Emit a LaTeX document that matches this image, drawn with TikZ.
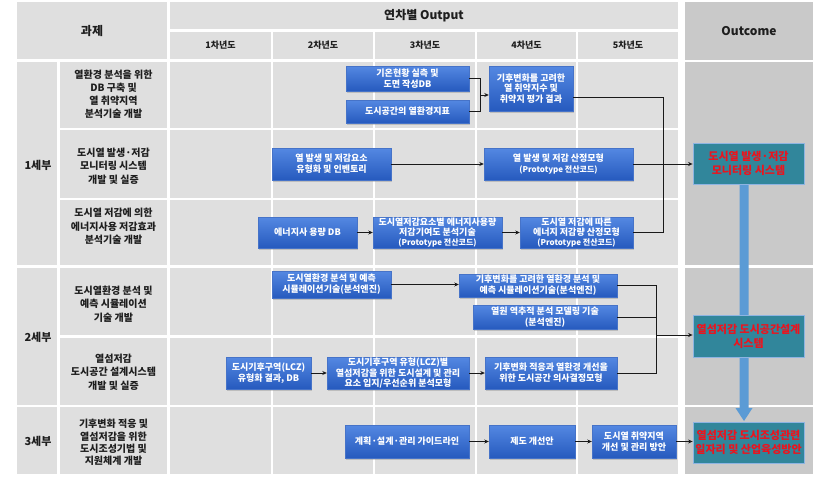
\documentclass[tikz,border=0pt]{standalone}
\usepackage{fontspec}
\setmainfont{Noto Sans CJK KR}
\usetikzlibrary{arrows.meta,shadows,calc}
\definecolor{cellgray}{RGB}{223,223,223}
\definecolor{outgray}{RGB}{201,201,201}
\definecolor{boxtop}{RGB}{84,136,226}
\definecolor{boxbot}{RGB}{38,90,190}
\definecolor{boxedge}{RGB}{70,115,200}
\definecolor{outteal}{RGB}{49,134,155}
\definecolor{tealedge}{RGB}{141,180,226}
\definecolor{barblue}{RGB}{91,155,213}
\definecolor{txtdark}{RGB}{30,30,30}
\definecolor{outred}{RGB}{235,20,30}
\tikzset{
  cell/.style={fill=cellgray},
  ocell/.style={fill=outgray},
  celltext/.style={text=txtdark, font=\fontsize{10}{13.5}\selectfont\bfseries, align=center, inner sep=0pt},
  headtext/.style={text=txtdark, font=\fontsize{12}{14}\selectfont\bfseries, align=center, inner sep=0pt},
  yeartext/.style={text=txtdark, font=\fontsize{9}{10}\selectfont\bfseries, inner sep=0pt},
  parttext/.style={text=txtdark, font=\fontsize{11}{12}\selectfont\bfseries, inner sep=0pt},
  bbox/.style={rectangle, top color=boxtop, bottom color=boxbot, draw=boxedge, line width=0.4pt,
    text=white, font=\fontsize{9}{11}\selectfont\bfseries, align=center, inner sep=0pt,
    drop shadow={shadow xshift=1pt, shadow yshift=-1.5pt, opacity=0.35}},
  tight/.style={font=\fontsize{9}{10.2}\selectfont\bfseries},
  obox/.style={rectangle, fill=outteal, draw=tealedge, line width=0.8pt, text=outred,
    font=\fontsize{11}{14}\selectfont\bfseries, align=center, inner sep=0pt,
    minimum width=111, minimum height=41},
  conn/.style={draw=black!90, line width=1pt},
  arr/.style={conn, -{Stealth[length=4.5pt,width=4pt]}},
}
\newcommand{\prt}{\fontsize{8}{9}\selectfont}
\begin{document}
\begin{tikzpicture}[x=1pt,y=-1pt]
\useasboundingbox (0,0) rectangle (820,477);
\fill[white] (0,0) rectangle (820,477);
% header cells
\fill[cell] (17,2) rectangle (167,59);
\fill[cell] (170,2) rectangle (678,29);
\foreach \a/\b in {170/271,273/373,375/475,477/576,578/678}{
  \fill[cell] (\a,32) rectangle (\b,59);
}
\fill[ocell] (685,2) rectangle (813,60);
% part cells
\fill[cell] (17,62) rectangle (57,265);
\fill[cell] (17,268) rectangle (57,405);
\fill[cell] (17,407) rectangle (57,474);
% row cells
\foreach \t/\u in {62/128,130/198,200/265,268/335,338/405,407/474}{
  \fill[cell] (60,\t) rectangle (167,\u);
  \foreach \a/\b in {170/271,273/373,375/475,477/576,578/678}{
    \fill[cell] (\a,\t) rectangle (\b,\u);
  }
}
% outcome cells
\fill[ocell] (685,62) rectangle (813,265);
\fill[ocell] (685,268) rectangle (813,405);
\fill[ocell] (685,407) rectangle (813,474);

% header texts
\node[headtext] (hk) at (92,30.5) {과제};
\node[headtext] (ho) at (424,16) {연차별 Output};
\node[headtext] (hc) at (749,31) {Outcome};
\node[yeartext] (y1) at (220.5,45.5) {1차년도};
\node[yeartext] (y2) at (323,45.5) {2차년도};
\node[yeartext] (y3) at (425,45.5) {3차년도};
\node[yeartext] (y4) at (526.5,45.5) {4차년도};
\node[yeartext] (y5) at (628,45.5) {5차년도};
% parts
\node[parttext] (p1) at (38,165) {1세부};
\node[parttext] (p2) at (38,337) {2세부};
\node[parttext] (p3) at (38,441) {3세부};
% tasks
\node[celltext, font=\fontsize{10}{13}\selectfont\bfseries] (t1) at (113.5,94) {열환경 분석을 위한\\DB 구축 및\\열 취약지역\\분석기술 개발};
\node[celltext] (t2) at (113.5,166) {도시열 발생·저감\\모니터링 시스템\\개발 및 실증};
\node[celltext] (t3) at (113.5,226.5) {도시열 저감에 의한\\에너지사용 저감효과\\분석기술 개발};
\node[celltext] (t4) at (113.5,304) {도시열환경 분석 및\\예측 시뮬레이션\\기술 개발};
\node[celltext] (t5) at (113.5,372) {열섬저감\\도시공간 설계시스템\\개발 및 실증};
\node[celltext, font=\fontsize{10}{12.3}\selectfont\bfseries] (t6) at (113.5,442.5) {기후변화 적응 및\\열섬저감을 위한\\도시조성기법 및\\지원체계 개발};

% blue bar arrow (behind outcomes)
\fill[barblue] (739.5,184) -- (748.5,184) -- (748.5,408) -- (752.5,408) -- (744,421) -- (735.5,408) -- (739.5,408) -- cycle;

% boxes
\node[bbox, minimum width=123, minimum height=25] (b1) at (407.5,78.5) {기온현황 실측 및\\도면 작성DB};
\node[bbox, minimum width=123, minimum height=23] (b2) at (407.5,111.5) {도시공간의 열환경지표};
\node[bbox, tight, minimum width=84, minimum height=45] (b3) at (531,88.5) {기후변화를 고려한\\열 취약지수 및\\취약지 평가 결과};
\node[bbox, minimum width=119, minimum height=32] (b4) at (331.5,164) {열 발생 및 저감요소\\유형화 및 인벤토리};
\node[bbox, minimum width=149, minimum height=32] (b5) at (558.5,164) {열 발생 및 저감 산정모형\\{\prt (Prototype 전산코드)}};
\node[bbox, minimum width=99, minimum height=31] (b6) at (307.5,232.5) {에너지사 용량 DB};
\node[bbox, tight, minimum width=129, minimum height=31] (b7) at (437.5,232.5) {도시열저감요소별 에너지사용량\\저감기여도 분석기술\\{\prt (Prototype 전산코드)}};
\node[bbox, tight, minimum width=113, minimum height=31] (b8) at (576.5,232.5) {도시열 저감에 따른\\에너지 저감량 산정모형\\{\prt (Prototype 전산코드)}};
\node[bbox, minimum width=119, minimum height=27] (b9) at (331.5,284.5) {도시열환경 분석 및 예측\\시뮬레이션기술(분석엔진)};
\node[bbox, minimum width=158, minimum height=23] (b10) at (538,285.5) {기후변화를 고려한 열환경 분석 및\\예측 시뮬레이션기술(분석엔진)};
\node[bbox, minimum width=144, minimum height=24] (b11) at (545,317) {열원 역추적 분석 모델링 기술\\(분석엔진)};
\node[bbox, minimum width=85, minimum height=32] (b12) at (268.5,373) {도시기후구역(LCZ)\\유형화 결과, DB};
\node[bbox, tight, minimum width=142, minimum height=32] (b13) at (398,373) {도시기후구역 유형(LCZ)별\\열섬저감을 위한 도시설계 및 관리\\요소 입지/우선순위 분석모형};
\node[bbox, minimum width=132, minimum height=32] (b14) at (551,373) {기후변화 적응과 열환경 개선을\\위한 도시공간 의사결정모형};
\node[bbox, minimum width=124, minimum height=33] (b15) at (407,441.5) {계획·설계·관리 가이드라인};
\node[bbox, minimum width=86, minimum height=33] (b16) at (532,441.5) {제도 개선안};
\node[bbox, minimum width=84, minimum height=33] (b17) at (634,441.5) {도시열 취약지역\\개선 및 관리 방안};

% outcomes
\node[obox] (o1) at (748.5,163.5) {도시열 발생·저감\\모니터링 시스템};
\node[obox, minimum height=42] (o2) at (748.5,336) {열섬저감 도시공간설계\\시스템};
\node[obox] (o3) at (748.5,442.5) {열섬저감 도시조성관련\\일자리 및 산업육성방안};

% connectors
\coordinate (m1) at (480,95);
\draw[conn] (b1.east) -| (m1);
\draw[conn] (b2.east) -| (m1);
\draw[arr] (m1) -- (m1 -| b3.west);
\coordinate (m2t) at (663,97);
\coordinate (m2) at (663,164);
\draw[conn] (m2t -| b3.east) -- (m2t) -- (m2);
\draw[conn] (b8.east) -| (m2);
\draw[arr] (b4.east) -- (b4.east -| b5.west);
\draw[arr] (b5.east) -- (b5.east -| o1.west);
\draw[arr] (b6.east) -- (b7.west);
\draw[arr] (b7.east) -- (b8.west);
\draw[arr] (b9.east) -- (b9.east -| b10.west);
\coordinate (m3) at (656,335);
\draw[conn] (b10.east) -| (m3);
\draw[conn] (b11.east) -| (m3);
\draw[conn] (b14.east) -| (m3);
\draw[arr] (m3) -- (m3 -| o2.west);
\draw[arr] (b12.east) -- (b13.west);
\draw[arr] (b13.east) -- (b14.west);
\draw[arr] (b15.east) -- (b16.west);
\draw[arr] (b16.east) -- (b17.west);
\draw[arr] (b17.east) -- (b17.east -| o3.west);
\end{tikzpicture}
\end{document}
